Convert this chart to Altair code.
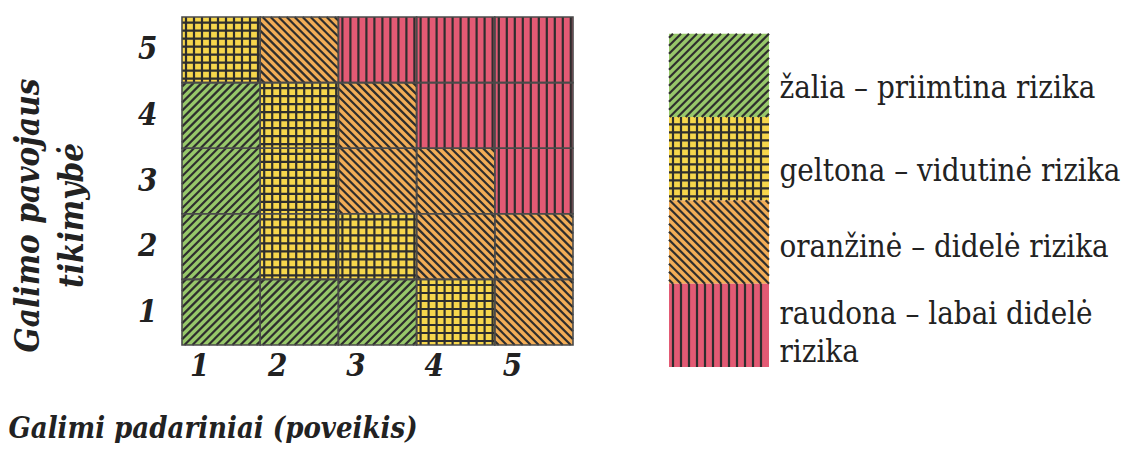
import json
import pandas as pd
import altair as alt

# ---------------- data ----------------
consequence = ["1", "2", "3", "4", "5"]          # x categories (Galimi padariniai)
likelihood = ["1", "2", "3", "4", "5"]           # y categories (Galimo pavojaus tikimybė)
# risk level of each cell, rows = likelihood 1..5, columns = consequence 1..5
risk_grid = [
    ["green", "green", "green", "yellow", "orange"],
    ["green", "yellow", "yellow", "orange", "orange"],
    ["green", "yellow", "orange", "orange", "red"],
    ["green", "yellow", "orange", "red", "red"],
    ["yellow", "orange", "red", "red", "red"],
]
risk_levels = ["green", "yellow", "orange", "red"]
risk_colors = ["#97c76a", "#f6d64c", "#f2ad57", "#e35a74"]
risk_patterns = ["diag_up", "grid", "diag_down", "vertical"]
risk_labels = [
    "žalia – priimtina rizika",
    "geltona – vidutinė rizika",
    "oranžinė  – didelė  rizika",
    "raudona – labai didelė|rizika",
]

# ---------------- layout ----------------
W, H = 391, 328            # matrix plot area
LW, LH = 100, 350          # legend swatch panel
LEG_TOP = 4.2              # legend y-domain top (leaves room above swatches)
SERIF = "DejaVu Serif Condensed, DejaVu Serif, serif"
LINE = "#2e2e2e"
STEP = 8.0


def hatch(kind, x0, x1, y0, y1, sx, sy, step=STEP):
    w = (x1 - x0) * sx
    h = (y1 - y0) * sy
    segs = []

    def add(u1, v1, u2, v2):
        segs.append({"x": x0 + u1 / sx, "y": y0 + v1 / sy,
                     "x2": x0 + u2 / sx, "y2": y0 + v2 / sy})

    if kind in ("vertical", "grid"):
        u = step / 2
        while u < w:
            add(u, 0, u, h)
            u += step
    if kind == "grid":
        v = step / 2
        while v < h:
            add(0, v, w, v)
            v += step
    if kind == "diag_up":
        k = -h + step / 2
        while k < w:
            us, ue = max(0.0, k), min(w, h + k)
            if ue - us > 0.5:
                add(us, us - k, ue, ue - k)
            k += step
    if kind == "diag_down":
        k = step / 2
        while k < w + h:
            us, ue = max(0.0, k - h), min(w, k)
            if ue - us > 0.5:
                add(us, k - us, ue, k - ue)
            k += step
    return segs


pat_of = dict(zip(risk_levels, risk_patterns))

# matrix cells
cell_rows, seg_rows = [], []
sx, sy = W / len(consequence), H / len(likelihood)
for r, row in enumerate(risk_grid):
    for c, lvl in enumerate(row):
        cell_rows.append({"x": c, "x2": c + 1, "y": r, "y2": r + 1, "risk": lvl})
        seg_rows += hatch(pat_of[lvl], c, c + 1, r, r + 1, sx, sy)
cells = pd.DataFrame(cell_rows)
segs = pd.DataFrame(seg_rows)

# legend cells (green on top)
leg_rows, leg_segs = [], []
lsx, lsy = LW / 1.0, LH / LEG_TOP
n = len(risk_levels)
for i, lvl in enumerate(risk_levels):
    y0 = n - 1 - i
    leg_rows.append({"x": 0, "x2": 1, "y": y0, "y2": y0 + 1, "risk": lvl})
    leg_segs += hatch(risk_patterns[i], 0, 1, y0, y0 + 1, lsx, lsy)
leg_cells = pd.DataFrame(leg_rows)
leg_segs = pd.DataFrame(leg_segs)

color_scale = alt.Scale(domain=risk_levels, range=risk_colors)

# ---------------- matrix ----------------
xs = alt.Scale(domain=[0, len(consequence)], nice=False, zero=False)
ys = alt.Scale(domain=[0, len(likelihood)], nice=False, zero=False)

x_axis = alt.Axis(
    values=[i + 0.5 for i in range(len(consequence))],
    labelExpr=f"{json.dumps(consequence)}[floor(datum.value)]",
    domain=False, ticks=False, grid=False,
    labelFont=SERIF, labelFontSize=31, labelFontStyle="italic", labelFontWeight="bold",
    labelColor="#222", labelPadding=6, labelOffset=-22,
    title="Galimi padariniai (poveikis)",
    titleFont=SERIF, titleFontSize=29, titleFontStyle="italic", titleFontWeight="bold",
    titleColor="#222", titleAnchor="start", titleAlign="left", titleBaseline="alphabetic",
    titleX=-174, titleY=92,
)
y_axis = alt.Axis(
    values=[i + 0.5 for i in range(len(likelihood))],
    labelExpr=f"{json.dumps(likelihood)}[floor(datum.value)]",
    domain=False, ticks=False, grid=False,
    labelFont=SERIF, labelFontSize=31, labelFontStyle="italic", labelFontWeight="bold",
    labelColor="#222", labelPadding=25,
    title=["Galimo pavojaus", "tikimybė"],
    titleFont=SERIF, titleFontSize=33, titleFontStyle="italic", titleFontWeight="bold",
    titleColor="#222", titleAngle=270, titleAlign="center", titleBaseline="middle",
    titleLineHeight=44, titleX=-154, titleY=198,
)

base_rect = alt.Chart(cells).mark_rect(strokeWidth=0).encode(
    x=alt.X("x:Q", scale=xs, axis=x_axis),
    x2="x2:Q",
    y=alt.Y("y:Q", scale=ys, axis=y_axis),
    y2="y2:Q",
    color=alt.Color("risk:N", scale=color_scale, legend=None),
)
hatch_rules = alt.Chart(segs).mark_rule(color=LINE, strokeWidth=2.2, strokeCap="butt").encode(
    x=alt.X("x:Q", scale=xs), x2="x2:Q",
    y=alt.Y("y:Q", scale=ys), y2="y2:Q",
)
borders = alt.Chart(cells).mark_rect(fill=None, stroke="#4a4a4a", strokeWidth=1.6).encode(
    x=alt.X("x:Q", scale=xs), x2="x2:Q",
    y=alt.Y("y:Q", scale=ys), y2="y2:Q",
)
matrix = alt.layer(base_rect, hatch_rules, borders).properties(width=W, height=H)

# ---------------- legend ----------------
lxs = alt.Scale(domain=[0, 1], nice=False, zero=False)
lys = alt.Scale(domain=[0, LEG_TOP], nice=False, zero=False)
leg_axis = alt.Axis(
    orient="right",
    values=[i + 0.5 for i in range(n)],
    labelExpr=f"split({json.dumps(risk_labels)}[{n - 1} - floor(datum.value)], '|')",
    domain=False, ticks=False, grid=False,
    labelFont=SERIF, labelFontSize=31, labelColor="#222",
    labelAlign="left", labelBaseline="middle", labelPadding=10,
    labelOffset={"condition": [{"test": "datum.value < 1", "value": -11},
                               {"test": "datum.value < 2", "value": 5}],
                 "value": 13},
    labelLineHeight=38, labelLimit=500, labelOverlap=False, title=None,
)
leg_rect = alt.Chart(leg_cells).mark_rect(strokeWidth=0).encode(
    x=alt.X("x:Q", scale=lxs, axis=None), x2="x2:Q",
    y=alt.Y("y:Q", scale=lys, axis=leg_axis), y2="y2:Q",
    color=alt.Color("risk:N", scale=color_scale, legend=None),
)
leg_rules = alt.Chart(leg_segs).mark_rule(color=LINE, strokeWidth=2.2, strokeCap="butt").encode(
    x=alt.X("x:Q", scale=lxs), x2="x2:Q",
    y=alt.Y("y:Q", scale=lys), y2="y2:Q",
)
legend = alt.layer(leg_rect, leg_rules).properties(width=LW, height=LH)

chart = alt.hconcat(matrix, legend, spacing=92).properties(
    padding={"left": 0, "top": 7, "right": 0, "bottom": 0},
    background="white",
).configure_view(stroke=None)

chart.save("out.html", embed_options={"renderer": "svg", "actions": False})
